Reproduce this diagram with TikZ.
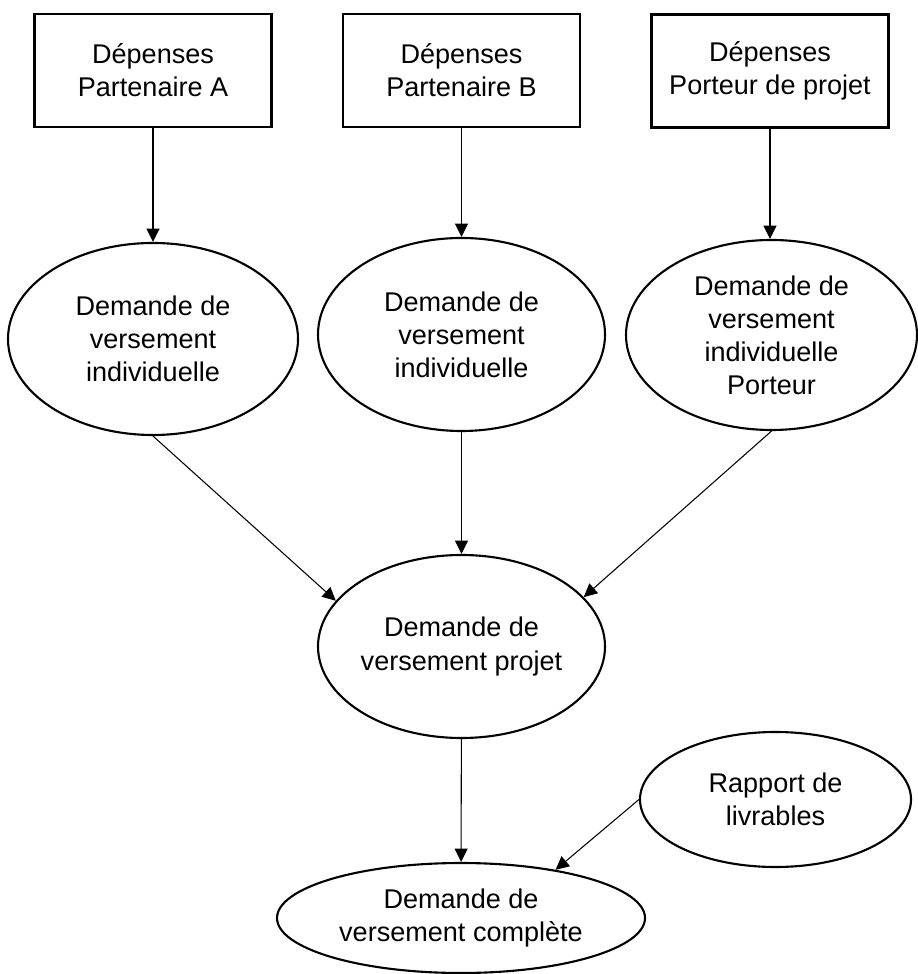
\documentclass[tikz,border=0pt]{standalone}
\usepackage{fontspec}
\setmainfont{Liberation Sans}
\usetikzlibrary{shapes.geometric, arrows.meta}

\begin{document}
\begin{tikzpicture}[
    font=\fontsize{7.7}{9.4}\selectfont,
    depbox/.style={draw, line width=0.7pt, minimum width=2.37cm, minimum height=1.13cm, align=center, inner sep=0pt},
    demande/.style={draw, ellipse, line width=0.6pt, align=center, inner sep=0pt},
    fleche/.style={-{Triangle[length=3.8pt,width=3.7pt]}, line width=0.3pt}
]
    \useasboundingbox (0,0) rectangle (9.17,-9.74);
    % depenses
    \node[depbox] (depA) at (1.53,-0.705) {Dépenses\\Partenaire A};
    \node[depbox] (depB) at (4.615,-0.705) {Dépenses\\Partenaire B};
    \node[depbox] (depP) at (7.7,-0.71) {Dépenses\\Porteur de projet};
    % demandes individuelles
    \node[demande, minimum width=2.90cm, minimum height=1.92cm] (indA) at (1.53,-3.39) {Demande de\\versement\\individuelle};
    \node[demande, minimum width=2.87cm, minimum height=1.93cm] (indB) at (4.615,-3.345) {Demande de\\versement\\individuelle};
    \node[demande, minimum width=2.91cm, minimum height=1.90cm] (indP) at (7.715,-3.35) {Demande de\\versement\\individuelle\\Porteur};
    % demande projet
    \node[demande, minimum width=2.87cm, minimum height=1.83cm] (projet) at (4.615,-6.465) {Demande de\\versement projet};
    \node[demande, minimum width=2.71cm, minimum height=1.35cm] (rapport) at (7.755,-7.995) {Rapport de\\livrables};
    \node[demande, minimum width=3.68cm, minimum height=1.10cm] (complete) at (4.61,-9.18) {Demande de\\versement complète};

    \draw[fleche, line width=0.45pt] (depA) -- (indA);
    \draw[fleche] (depB) -- (indB);
    \draw[fleche] (depP.south) -- (depP.south |- indP.north);
    \draw[fleche] (indA.south) -- (projet.160);
    \draw[fleche] (indB) -- (projet);
    \draw[fleche] (indP.south) -- (projet.22);
    \draw[fleche] (projet) -- (complete);
    \draw[fleche] (rapport.west) -- (complete.27);
\end{tikzpicture}
\end{document}
